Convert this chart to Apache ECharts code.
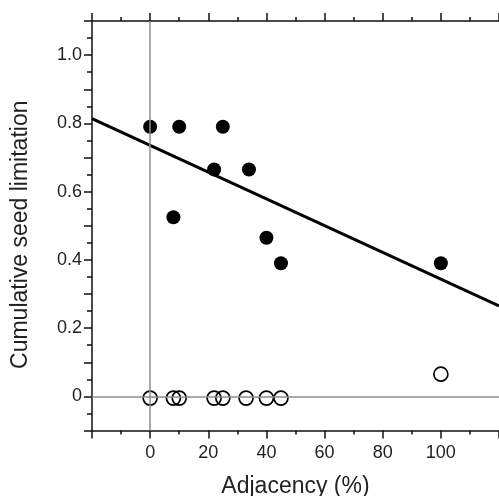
<!DOCTYPE html>
<html>
<head>
<meta charset="utf-8">
<script src="https://cdn.jsdelivr.net/npm/echarts@6/dist/echarts.min.js"></script>
<style>html,body{margin:0;padding:0;background:#fff}#c{width:499px;height:496px}</style>
</head>
<body>
<div id="c"></div>
<script>
// Filled points: cumulative seed limitation vs adjacency
var filledX = [0, 8, 10, 22, 25, 34, 40, 45, 100];
var filledY = [0.79, 0.525, 0.79, 0.665, 0.79, 0.665, 0.465, 0.39, 0.39];
// Open points
var openX = [0, 8, 10, 22, 25, 33, 40, 45, 100];
var openY = [-0.005, -0.005, -0.005, -0.005, -0.005, -0.005, -0.005, -0.005, 0.065];
// Regression line endpoints
var lineX = [-20, 120];
var lineY = [0.814, 0.265];

var FONT = '"Liberation Sans", Arial, sans-serif';
function pairs(xs, ys){ return xs.map(function(x,i){ return [x, ys[i]]; }); }

var chart = echarts.init(document.getElementById('c'), null, {renderer:'canvas'});
var axisLineStyle = {color:'#111', width:1.5};
chart.setOption({
  animation:false,
  grid:{left:92, top:21, right:0, bottom:65.5, containLabel:false, outerBoundsMode:'none'},
  xAxis:[{
    type:'value', position:'bottom', min:-20, max:120, interval:20,
    name:'Adjacency (%)', nameLocation:'middle', nameGap:45,
    nameTextStyle:{fontFamily:FONT, fontSize:23, color:'#222'},
    axisLine:{show:true, onZero:false, lineStyle:axisLineStyle},
    axisTick:{show:true, inside:false, length:8, lineStyle:{color:'#111', width:1.5}},
    minorTick:{show:true, splitNumber:2, length:4, lineStyle:{color:'#111', width:1.5}},
    splitLine:{show:false},
    axisLabel:{fontFamily:FONT, fontSize:18, color:'#222', margin:14,
      formatter:function(v){ return (v < 0 || v > 100) ? '' : String(v); }}
  },{
    type:'value', position:'top', min:-20, max:120, interval:20,
    axisLine:{show:true, onZero:false, lineStyle:axisLineStyle},
    axisTick:{show:true, inside:false, length:8, lineStyle:{color:'#111', width:1.5}},
    minorTick:{show:true, splitNumber:2, length:4, lineStyle:{color:'#111', width:1.5}},
    splitLine:{show:false},
    axisLabel:{show:false}
  }],
  yAxis:{
    type:'value', min:-0.1, max:1.1, interval:0.1,
    name:'Cumulative seed limitation', nameLocation:'middle', nameGap:60, nameRotate:90,
    nameTextStyle:{fontFamily:FONT, fontSize:23, color:'#222', padding:[0,18,0,0]},
    axisLine:{show:true, onZero:false, lineStyle:axisLineStyle},
    axisTick:{show:true, inside:false, length:8, lineStyle:{color:'#111', width:1.5}},
    minorTick:{show:true, splitNumber:2, length:5, lineStyle:{color:'#111', width:1.5}},
    splitLine:{show:false},
    axisLabel:{fontFamily:FONT, fontSize:18, color:'#222', margin:10,
      formatter:function(v){
        var k = Math.round(v*10);
        if (k < 0 || k > 10 || k % 2 !== 0) return '';
        return k === 0 ? '0' : (k/10).toFixed(1);
      }}
  },
  series:[
    {
      type:'line', data:[], silent:true,
      markLine:{silent:true, symbol:'none', label:{show:false},
        lineStyle:{color:'#8c8c8c', width:1.5, type:'solid'},
        data:[{xAxis:0},{yAxis:0}]}
    },
    {
      type:'line', data:pairs(lineX, lineY), showSymbol:false, symbol:'none',
      lineStyle:{color:'#000', width:3}, z:3
    },
    {
      type:'scatter', data:pairs(filledX, filledY), symbol:'circle', symbolSize:14,
      itemStyle:{color:'#000', opacity:1}, z:4
    },
    {
      type:'scatter', data:pairs(openX, openY), symbol:'circle', symbolSize:14,
      itemStyle:{color:'rgba(255,255,255,0)', borderColor:'#000', borderWidth:1.7, opacity:1}, z:4
    }
  ]
});
</script>
</body>
</html>
